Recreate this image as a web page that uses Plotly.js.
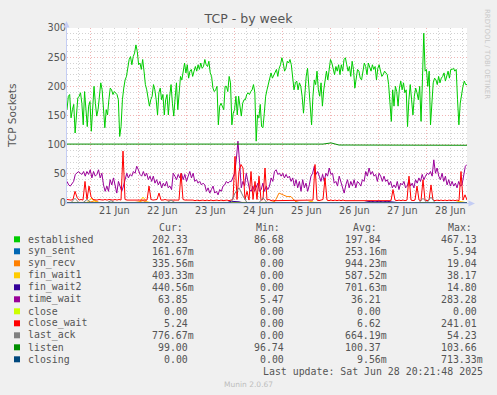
<!DOCTYPE html>
<html><head><meta charset="utf-8">
<script src="https://cdn.plot.ly/plotly-3.0.1.min.js"></script>
<style>html,body{margin:0;padding:0;background:#F0F0F0;}#chart{width:497px;height:395px;}</style>
</head><body><div id="chart"></div>
<script>
// ---------- data ----------
const seriesNames = ['established','syn_sent','syn_recv','fin_wait1','fin_wait2','time_wait','close','close_wait','last_ack','listen','closing'];
const seriesColors = ['#00CC00','#0066B3','#FF8000','#FFCC00','#330099','#990099','#CCFF00','#FF0000','#808080','#008F00','#00487D'];
const curText = ['202.33','161.67m','335.56m','403.33m','440.56m','63.85','0.00','5.24','776.67m','99.00','0.00'];
const minText = ['86.68','0.00','0.00','0.00','0.00','5.47','0.00','0.00','0.00','96.74','0.00'];
const avgText = ['197.84','253.16m','944.23m','587.52m','701.63m','36.21','0.00','6.62','664.19m','100.37','9.56m'];
const maxText = ['467.13','5.94','19.04','38.17','14.80','283.28','0.00','241.01','54.23','103.66','713.33m'];
const columnHeads = ['Cur:','Min:','Avg:','Max:'];
const chartTitle = 'TCP - by week';
const yTitle = 'TCP Sockets';
const lastUpdate = 'Last update: Sat Jun 28 20:21:48 2025';
const footer = 'Munin 2.0.67';
const sideText = 'RRDTOOL / TOBI OETIKER';

const startTime = Date.UTC(2025,5,20,12,21,48);
const endTime = Date.UTC(2025,5,28,20,21,48);
const firstDayTick = Date.UTC(2025,5,21,0,0,0);

const established = [160,183,186,146,160,169,120,154,180,183,189,171,134,191,160,131,166,174,123,166,200,171,149,160,186,206,194,160,129,160,151,177,197,194,186,191,189,186,177,114,131,177,197,211,217,237,246,251,237,251,257,271,260,237,240,229,246,226,203,194,177,166,177,183,203,194,177,151,189,197,177,186,151,177,186,151,183,203,171,149,180,206,160,183,217,211,226,240,223,237,214,226,229,217,226,234,226,237,229,240,231,234,246,237,234,243,223,217,197,191,194,200,134,166,171,166,160,200,200,191,217,206,134,154,160,183,151,183,166,149,171,177,177,186,
189,186,191,194,203,189,106,151,146,169,131,129,154,183,194,203,217,223,214,220,226,229,217,231,237,249,240,226,231,243,240,246,237,220,194,206,209,194,206,200,183,154,194,217,231,203,177,134,183,211,203,226,194,183,206,166,194,211,226,211,229,246,240,231,220,234,226,237,220,237,226,246,249,237,226,234,217,243,229,197,211,229,226,214,211,226,240,234,220,240,231,226,237,229,234,211,231,237,226,217,220,226,223,220,203,177,140,194,166,200,191,166,197,209,194,206,189,194,131,177,203,177,151,183,197,189,177,200,140,209,291,226,229,200,226,134,171,206,214,211,203,217,206,214,217,223,209,217,226,214,229,229,231,226,229,177,134,171,189,200,209,203,203];

const synSent = [0.2,0.2,0.3,0.2,0.2,0.3,0.2,0.2,0.2,0.3,1,0.2,0.2,0.3,0.2,0.2,0.2,0.3,0.2,0.2,0.2,0.3,0.2,0.2,0.2,0.3,0.2,0.2,0.2,0.3,1.5,0.2,0.2,0.3,0.2,0.2,0.2,0.3,0.2,0.2,0.2,0.3,0.2,0.2,0.2,0.3,0.2,0.2,0.2,0.2,0.2];

const synRecv = [1,1,0.5,1,0.5,1,2,4,1,0.5, 1,0.5,1,0.5,1,1,0.5,1,2,4, 1,0.5,1,0.5,1,1,0.5,1,0.5,1, 0.5,1,0.5,1,1,0.5,1,0.5,1,0.5, 1,0.5,1,1,0.5,1,0.5,1,1,0.5, 1,1,3,17,14,11,11,3,1,0.5, 1,0.5,1,1,0.5,1,0.5,1,0.5,1, 1,0.5,1,0.5,1,1,0.5,1,0.5,1, 0.5,1,1,0.5,1,0.5,1,0.5,1,1, 0.5,1,0.5,1,1,0.5,1,0.5,1,0.5, 0.3];

const finWait1 = [0.3,0.5,0.3,0.5,0.3,0.5,8,3,0.3,0.5, 0.3,0.5,0.3,0.5,0.3,0.5,0.3,0.5,0.3,10, 2,0.5,0.3,0.5,0.3,0.5,0.3,0.5,0.3,0.5, 0.3,0.5,0.3,0.5,0.3,0.5,0.3,0.5,0.3,0.5, 0.3,0.5,0.3,0.5,0.3,0.5,0.3,0.5,0.3,0.5, 0.3,0.5,0.3,0.5,0.3,0.5,0.3,0.5,0.3,0.5, 0.3,3,0.3,0.5,0.3,0.5,0.3,0.5,0.3,0.5, 0.3,0.5,0.3,0.5,0.3,0.5,0.3,0.5,0.3,0.5, 0.3,0.5,0.3,0.5,0.3,0.5,0.3,0.5,0.3,0.5, 0.3,0.5,0.3,0.5,0.3,0.5,0.3,0.5,3,2, 0.4];

const finWait2 = [0.5,0.4,0.6,0.5,0.4,0.6,0.5,0.4,0.6,0.5, 0.5,0.4,0.6,0.5,0.4,0.6,0.5,0.4,0.6,0.5, 0.5,0.4,0.6,0.5,0.4,0.6,0.5,0.4,0.6,0.5, 0.5,0.4,0.6,0.5,0.4,0.6,0.5,0.4,0.6,0.5, 0.5,3,3,2,0.4,0.6,0.5,0.4,0.6,0.5, 0.5,0.4,0.6,0.5,0.4,0.6,0.5,0.4,0.6,0.5, 0.5,0.4,0.6,0.5,0.4,0.6,0.5,0.4,0.6,0.5, 0.5,0.4,0.6,0.5,0.4,2,3,2,3,2, 3,2,0.6,0.5,0.4,0.6,0.5,0.4,0.6,0.5, 0.5,0.4,0.6,0.5,0.4,0.6,0.5,0.4,0.6,0.5, 0.4];

const timeWait = [37,31,29,34,37,49,51,54,51,49,54,46,54,49,57,43,54,46,49,57,43,51,31,20,29,20,40,31,43,29,17,37,29,20,29,40,51,43,49,46,54,51,63,57,49,46,54,46,51,40,46,37,46,34,40,31,37,26,34,29,37,26,29,23,51,46,40,49,43,51,40,49,37,46,54,43,51,37,40,34,37,31,34,31,20,26,17,23,29,17,20,14,23,20,29,31,37,34,37,37,46,51,74,106,69,26,37,29,51,37,23,
20,29,20,26,34,20,23,34,20,29,23,29,43,37,54,57,49,51,46,51,43,49,43,46,37,43,29,40,26,37,20,40,26,34,20,31,46,51,63,49,54,46,37,49,37,51,46,60,49,51,34,37,29,46,37,26,17,31,40,26,37,29,40,26,37,34,29,40,37,54,46,60,49,54,46,49,37,51,46,37,46,37,40,31,37,26,31,26,37,23,34,31,37,26,29,40,29,34,26,40,34,43,37,49,40,46,51,49,54,46,74,51,60,46,40,51,37,46,31,40,29,37,29,34,26,37,29,31,46,63,66];

const closeState = [0,0,0,0,0,0,0,0,0,0,0,0,0,0,0,0,0,0,0,0,0,0,0,0,0,0,0,0,0,0,0,0,0,0,0,0,0,0,0,0,0,0,0,0,0,0,0,0,0,0,0];

const closeWait = [6,5,5,6,20,10,5,6,5,37,6,29,11,6,5,5,6,5,5,6,
5,6,5,5,6,5,6,5,89,6,5,5,6,5,5,6,5,5,6,5,
5,29,6,5,5,6,17,5,5,6,5,5,6,5,5,6,5,51,6,5,
5,6,5,5,4,5,4,5,5,4,5,4,5,4,5,5,4,5,4,5,
5,4,5,6,80,6,54,66,60,6,20,5,54,6,37,6,46,5,6,60,
5,6,4,5,4,4,5,4,5,4,4,5,4,5,4,5,4,5,4,5,
4,5,4,5,66,5,4,5,6,43,5,4,5,4,5,4,5,4,5,4,
4,5,4,5,4,5,4,4,5,4,5,4,5,4,4,5,4,5,4,5,
4,5,4,23,5,4,5,4,5,4,5,46,5,4,5,29,5,4,40,5,
4,5,31,5,4,5,4,5,4,5,4,5,4,5,4,5,4,54,5,14,
5];

const lastAck = [0.5,0.6,8,0.5,0.6,6,0.5,0.6,0.5,0.6, 0.5,4,0.5,0.6,0.5,0.6,0.5,0.6,0.5,0.6, 0.5,0.6,0.5,0.6,0.5,0.6,5,0.6,0.5,0.6, 0.5,0.6,0.5,0.6,0.5,0.6,0.5,0.6,0.5,0.6, 0.5,0.6,17,26,12,0.6,0.5,0.6,0.5,9, 0.5,0.6,0.5,0.6,0.5,0.6,0.5,0.6,0.5,0.6, 0.5,0.6,0.5,0.6,0.5,0.6,0.5,0.6,0.5,0.6, 0.5,0.6,0.5,0.6,0.5,0.6,0.5,0.6,0.5,0.6, 0.5,0.6,0.5,0.6,0.5,0.6,0.5,0.6,0.5,8, 0.5,10,0.5,0.6,0.5,0.6,0.5,0.6,0.5,0.6, 0.8];

const listen = [101,101,101,101,101,101,101,101,101,101,101,101,101,101,101,101,101,101,101,101,101,101,101,101,101,101,101,101,102,101,101,101,101,103,99.4,99.4,99.4,99.4,99.4,99.4,99.4,99.4,99.4,99.4,99.4,99.4,99.4,99.4,99.4,99.4,99];

const closing = [0,0,0,0,0,0,0,0,0,0,0,0,0,0,0,0,0,0,0,0,0,0,0,0,0,0,0,0,0,0,0,0,0,0,0,0,0,0,0,0,0,0,0,0,0,0,0,0,0,0,0];

const seriesValues = [established,synSent,synRecv,finWait1,finWait2,timeWait,closeState,closeWait,lastAck,listen,closing];

// ---------- build ----------
function timesFor(n){const a=[];for(let i=0;i<n;i++)a.push(startTime+(endTime-startTime)*i/(n-1));return a;}
const traces = seriesValues.map((vals,i)=>({
  type:'scatter',mode:'lines',x:timesFor(vals.length),y:vals,
  line:{color:seriesColors[i],width:1},hoverinfo:'skip',showlegend:false
}));

const PL=67, PR=467, PT=28, PB=203;
const px = v => (v-PL)/(PR-PL);
const py = v => (PB-v)/(PB-PT);
const TXT='#555555';
const mono='DejaVu Sans Mono';
const sans='DejaVu Sans';
const LF=9.9;

const ann=[];
function addText(text,x,y,xa,opt){ann.push(Object.assign({text:text,x:px(x),y:py(y),xref:'paper',yref:'paper',xanchor:xa,yanchor:'middle',showarrow:false,borderpad:0,font:{family:mono,size:LF,color:TXT}},opt||{}));}
function fmt(s){return /[a-zA-Z]$/.test(s)?s:s+'\u00A0';}

const ROW0=239.3, ROWH=12;
const headLeft=[158,255,352,447];
columnHeads.forEach((h,k)=>addText(h,headLeft[k],227.3,'left'));
const colRight=[194.5,291,387.5,483.5];
const shapes=[];
seriesNames.forEach((n,i)=>{
  const y=ROW0+ROWH*i;
  addText(n,26.5,y,'left');
  [curText,minText,avgText,maxText].forEach((col,k)=>addText(fmt(col[i]),colRight[k],y,'right'));
  shapes.push({type:'rect',xref:'paper',yref:'paper',x0:px(14),x1:px(20),y0:py(y-3),y1:py(y+3),fillcolor:seriesColors[i],line:{width:0}});
});
addText(lastUpdate,483.5,371.7,'right');
addText(footer,248,384,'center',{font:{family:sans,size:7.5,color:'#BDBDBD'}});
addText(yTitle,11.5,115.5,'center',{textangle:-90,font:{family:sans,size:10.5,color:TXT}});
addText(sideText,487,54,'center',{textangle:90,font:{family:sans,size:7,color:'#C8C8C8'}});

const AX='#C4CDF4';
shapes.push({type:'line',xref:'paper',yref:'paper',layer:'above',x0:px(66.5),x1:px(66.5),y0:py(203.5),y1:py(27),line:{color:AX,width:1}});
shapes.push({type:'line',xref:'paper',yref:'paper',layer:'above',x0:px(66),x1:px(469),y0:py(203.5),y1:py(203.5),line:{color:AX,width:1}});
shapes.push({type:'path',xref:'paper',yref:'paper',layer:'above',path:`M${px(66.5)},${py(21)} L${px(63.5)},${py(27.5)} L${px(69.5)},${py(27.5)} Z`,fillcolor:AX,line:{width:0}});
shapes.push({type:'path',xref:'paper',yref:'paper',layer:'above',path:`M${px(475)},${py(203.5)} L${px(468.5)},${py(200.5)} L${px(468.5)},${py(206.5)} Z`,fillcolor:AX,line:{width:0}});

const MG='#F0B4B4', mg='#D2D2D2', DOT='1px,2px';
const layout={
  width:497,height:395,
  margin:{l:PL,r:497-PR,t:PT,b:395-PB,pad:0},
  paper_bgcolor:'#F0F0F0',plot_bgcolor:'#FFFFFF',
  title:{text:chartTitle,font:{family:sans,size:12.5,color:TXT},x:0.5,xanchor:'center',xref:'container',y:1-19/395,yanchor:'middle',yref:'container'},
  xaxis:{type:'date',range:[startTime,endTime],tickmode:'linear',tick0:firstDayTick,dtick:86400000,tickformat:'%d %b',
    ticklabelshift:24,ticks:'',showline:false,zeroline:false,
    showgrid:true,gridcolor:MG,griddash:DOT,gridwidth:1,
    minor:{tick0:firstDayTick,dtick:21600000,showgrid:true,gridcolor:mg,griddash:DOT,gridwidth:1,ticks:''},
    tickfont:{family:sans,size:9.7,color:TXT},fixedrange:true},
  yaxis:{range:[0,300],tickmode:'linear',tick0:0,dtick:50,ticks:'',showline:false,zeroline:false,
    showgrid:true,gridcolor:MG,griddash:DOT,gridwidth:1,
    minor:{tick0:0,dtick:10,showgrid:true,gridcolor:mg,griddash:DOT,gridwidth:1,ticks:''},
    tickfont:{family:sans,size:9.7,color:TXT},fixedrange:true},
  annotations:ann,shapes:shapes,showlegend:false
};
Plotly.newPlot('chart',traces,layout,{staticPlot:true,displayModeBar:false});
</script></body></html>
